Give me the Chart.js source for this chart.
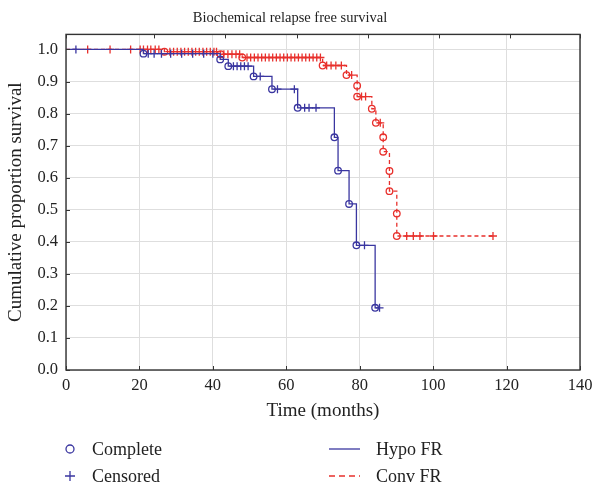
<!DOCTYPE html>
<html>
<head>
<title>Biochemical relapse free survival</title>
<script src="https://cdn.jsdelivr.net/npm/chart.js"></script>
<style>
  body { margin: 0; background: #fff; }
  .wrap { position: relative; width: 595px; height: 483px; }
  .leg { position: absolute; font-family: "Liberation Serif", serif; font-size: 18px; color: #222; line-height: 20px; }
  .leg svg { position: absolute; }
</style>
</head>
<body>
<div class="wrap">
  <canvas id="km" width="595" height="483"></canvas>

  <div class="leg" style="left:62px; top:439px;">
    <svg width="16" height="20" style="left:0;top:0"><circle cx="8" cy="10" r="4" fill="none" stroke="#3a36a0" stroke-width="1.3"/></svg>
    <span style="position:absolute; left:30px; white-space:nowrap">Complete</span>
  </div>
  <div class="leg" style="left:62px; top:466px;">
    <svg width="16" height="20" style="left:0;top:0"><path d="M8 5 V15 M3 10 H13" stroke="#3a36a0" stroke-width="1.3"/></svg>
    <span style="position:absolute; left:30px; white-space:nowrap">Censored</span>
  </div>
  <div class="leg" style="left:328px; top:439px;">
    <svg width="34" height="20" style="left:0;top:0"><path d="M1 10 H32" stroke="#3a36a0" stroke-width="1.3"/></svg>
    <span style="position:absolute; left:48px; white-space:nowrap">Hypo FR</span>
  </div>
  <div class="leg" style="left:328px; top:466px;">
    <svg width="34" height="20" style="left:0;top:0"><path d="M1 10 H32" stroke="#e8302c" stroke-width="1.3" stroke-dasharray="6,4"/></svg>
    <span style="position:absolute; left:48px; white-space:nowrap">Conv FR</span>
  </div>
</div>

<script>
// Hypo FR (blue) - events (circles) and censored times (+)
const hypoEventTimes = [21.1, 42.0, 44.2, 51.1, 56.1, 63.1, 73.1, 74.1, 77.1, 79.1, 84.2];
const hypoEventSurv  = [0.987, 0.969, 0.948, 0.916, 0.876, 0.818, 0.726, 0.622, 0.518, 0.389, 0.194];
const hypoCensTimes  = [2.7, 22.4, 24.0, 26.0, 28.5, 31.5, 34.5, 37.5, 40.0,
                        45.6, 46.6, 47.6, 48.6, 49.6, 52.9, 57.6, 62.2, 65.0, 66.2, 68.1, 81.3, 85.4];

// Conv FR (red)
const convEventTimes = [26.8, 42.1, 48.0, 69.9, 76.4, 79.3, 79.3, 83.3, 84.4, 86.4, 86.4, 88.1, 88.1, 90.1, 90.1];
const convEventSurv  = [0.993, 0.985, 0.975, 0.950, 0.920, 0.887, 0.853, 0.815, 0.771, 0.726, 0.681, 0.621, 0.558, 0.488, 0.418];
const convCensTimes  = [5.9, 12.0, 17.6, 20.2, 21.1, 22.2, 23.1, 24.3, 25.3,
                        28.3, 29.3, 30.3, 31.3, 32.3, 33.3, 34.3, 35.3, 36.3, 37.3, 38.3, 39.3, 40.3, 41.0,
                        43.0, 44.1, 45.2, 46.3, 47.3,
                        49.3, 50.3, 51.3, 52.3, 53.3, 54.3, 55.3, 56.3, 57.3, 58.3, 59.3, 60.3, 61.3,
                        62.3, 63.3, 64.3, 65.3, 66.3, 67.3, 68.3, 69.3,
                        71.0, 72.2, 73.5, 75.0, 77.8, 80.5, 81.6, 85.6,
                        92.8, 94.6, 96.4, 100.1, 116.3];

const xTicks = [0, 20, 40, 60, 80, 100, 120, 140];
const yTicks = [0.0, 0.1, 0.2, 0.3, 0.4, 0.5, 0.6, 0.7, 0.8, 0.9, 1.0];

const BLUE = '#3a36a0';
const RED = '#e8302c';
const GRID = '#dedede';
const FONT = "'Liberation Serif', 'DejaVu Serif', serif";

function buildCurve(evT, evS, cenT) {
    const items = [];
    evT.forEach((t, i) => items.push({ t: t, s: evS[i], ev: true, ord: i }));
    cenT.forEach((t, i) => items.push({ t: t, ev: false, ord: i }));
    items.sort((a, b) => a.t - b.t || (a.ev === b.ev ? a.ord - b.ord : (a.ev ? -1 : 1)));
    const pts = [{ x: 0, y: 1, kind: 'start' }];
    let cur = 1;
    items.forEach(it => {
        if (it.ev) { cur = it.s; pts.push({ x: it.t, y: cur, kind: 'event' }); }
        else pts.push({ x: it.t, y: cur, kind: 'cens' });
    });
    return pts;
}

function kmDataset(label, pts, color, dash) {
    return {
        label: label,
        data: pts,
        borderColor: color,
        borderWidth: 1.3,
        borderDash: dash,
        stepped: 'before',
        fill: false,
        pointStyle: pts.map(p => p.kind === 'cens' ? 'cross' : 'circle'),
        pointRadius: pts.map(p => p.kind === 'start' ? 0 : (p.kind === 'cens' ? 4 : 3.3)),
        pointBorderColor: color,
        pointBackgroundColor: 'rgba(255,255,255,0)',
        pointBorderWidth: 1.3,
        pointHoverRadius: 0
    };
}

// box round the plot and small inward ticks
const framePlugin = {
    id: 'frame',
    afterDatasetsDraw(chart) {
        const { ctx, chartArea: a, scales } = chart;
        ctx.save();
        ctx.strokeStyle = '#333';
        ctx.lineWidth = 1.4;
        ctx.strokeRect(a.left, a.top, a.right - a.left, a.bottom - a.top);
        ctx.lineWidth = 1;
        ctx.beginPath();
        yTicks.forEach(v => {
            const y = Math.round(scales.y.getPixelForValue(v)) + 0.5;
            ctx.moveTo(a.left, y); ctx.lineTo(a.left + 4, y);
        });
        xTicks.forEach(v => {
            const x = Math.round(scales.x.getPixelForValue(v)) + 0.5;
            ctx.moveTo(x, a.bottom); ctx.lineTo(x, a.bottom - 4);
        });
        scales.xTop.ticks.forEach(t => {
            const x = Math.round(scales.xTop.getPixelForValue(t.value)) + 0.5;
            ctx.moveTo(x, a.top); ctx.lineTo(x, a.top + 4);
        });
        ctx.stroke();
        ctx.restore();
    }
};

new Chart(document.getElementById('km'), {
    type: 'line',
    data: {
        datasets: [
            kmDataset('Hypo FR', buildCurve(hypoEventTimes, hypoEventSurv, hypoCensTimes), BLUE, []),
            kmDataset('Conv FR', buildCurve(convEventTimes, convEventSurv, convCensTimes), RED, [4, 3])
        ]
    },
    options: {
        responsive: false,
        animation: false,
        events: [],
        layout: { padding: { left: 0, right: 15, top: 0, bottom: 61 } },
        plugins: {
            legend: { display: false },
            tooltip: { enabled: false },
            title: {
                display: true,
                text: 'Biochemical relapse free survival',
                color: '#222',
                font: { family: FONT, size: 14.5, weight: 'normal' },
                padding: { top: 9, bottom: 8 }
            }
        },
        scales: {
            x: {
                type: 'linear',
                min: 0, max: 140,
                afterBuildTicks: s => { s.ticks = xTicks.map(v => ({ value: v })); },
                afterFit: s => { s.height = 52; s.paddingRight = 0; s.paddingLeft = 0; },
                grid: { color: GRID, drawTicks: false },
                border: { display: false },
                ticks: { color: '#222', padding: 6, font: { family: FONT, size: 16.5 } },
                title: {
                    display: true, text: 'Time (months)', color: '#222',
                    font: { family: FONT, size: 19 }, padding: { top: 0, bottom: 0 }
                }
            },
            xTop: {
                type: 'linear',
                position: 'top',
                display: false,
                min: -0.234, max: 6.975,
                ticks: { stepSize: 1 }
            },
            y: {
                type: 'linear',
                min: 0, max: 1.047,
                afterBuildTicks: s => { s.ticks = yTicks.map(v => ({ value: v })); },
                afterFit: s => { s.width = 66; },
                grid: { color: GRID, drawTicks: false },
                border: { display: false },
                ticks: {
                    color: '#222', padding: 8,
                    font: { family: FONT, size: 16.5 },
                    callback: v => Number(v).toFixed(1)
                },
                title: {
                    display: true, text: 'Cumulative proportion survival', color: '#222',
                    font: { family: FONT, size: 19 }, padding: { top: 5, bottom: 0 }
                }
            }
        }
    },
    plugins: [framePlugin]
});
</script>
</body>
</html>
